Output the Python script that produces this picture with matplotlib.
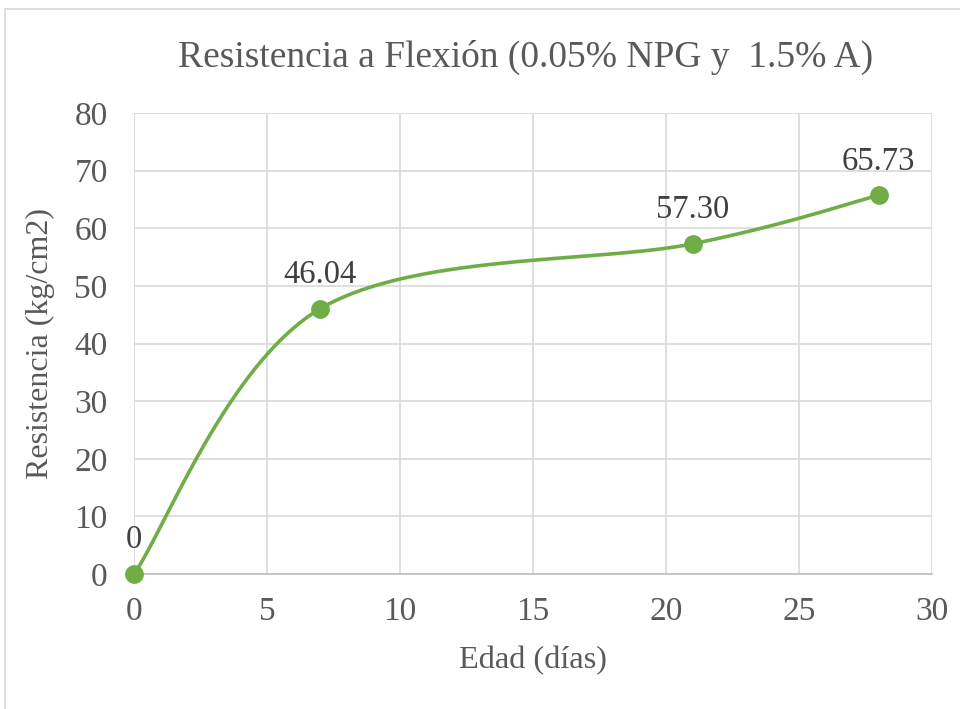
import numpy as np
import matplotlib.pyplot as plt
from matplotlib.patches import Rectangle

plt.rcParams['font.family'] = ['Liberation Serif', 'DejaVu Serif']

# datos
edad = [0, 7, 21, 28]
resistencia = [0, 46.04, 57.30, 65.73]
etiquetas = ['0', '46.04', '57.30', '65.73']
xticks = [0, 5, 10, 15, 20, 25, 30]
yticks = [0, 10, 20, 30, 40, 50, 60, 70, 80]

verde = '#70AD47'
gris = '#595959'


def suavizar(x, y, n=40):
    # curva suavizada tipo Excel (bezier con puntos de control catmull-rom)
    p = np.column_stack([x, y]).astype(float)
    pts = []
    for i in range(len(p) - 1):
        p0 = p[i - 1] if i > 0 else p[i]
        p1, p2 = p[i], p[i + 1]
        p3 = p[i + 2] if i + 2 < len(p) else p[i + 1]
        c1 = p1 + (p2 - p0) / 6
        c2 = p2 - (p3 - p1) / 6
        t = np.linspace(0, 1, n)[:, None]
        b = (1 - t) ** 3 * p1 + 3 * (1 - t) ** 2 * t * c1 + 3 * (1 - t) * t ** 2 * c2 + t ** 3 * p2
        pts.append(b)
    pts = np.vstack(pts)
    return pts[:, 0], pts[:, 1]


fig = plt.figure(figsize=(9.6, 7.09), dpi=100)
ax = fig.add_axes([0.1396, 0.1904, 0.8312, 0.6502])

# borde del grafico
fig.patches.append(Rectangle((5 / 960, -0.1), 1.2, 1 - 9 / 709 + 0.1, transform=fig.transFigure,
                             fill=False, edgecolor='#d9d9d9', lw=1.2))

xs, ys = suavizar(edad, resistencia)
ax.plot(xs, ys, color=verde, lw=2.6, zorder=3, solid_capstyle='round')
ax.plot(edad, resistencia, 'o', color=verde, ms=12.5, zorder=4, clip_on=False)

for x, y, t in zip(edad, resistencia, etiquetas):
    ax.annotate(t, (x, y), xytext=(0, 18.5), textcoords='offset points', ha='center', va='baseline',
                fontsize=23.5, color='#404040')

ax.set_xlim(0, 30)
ax.set_ylim(0, 80)
ax.set_xticks(xticks)
ax.set_yticks(yticks)
ax.grid(True, color='#d9d9d9', lw=1.2)
ax.set_axisbelow(True)
for s in ['top', 'right', 'left']:
    ax.spines[s].set_visible(False)
ax.spines['bottom'].set_color('#bfbfbf')
ax.spines['bottom'].set_linewidth(1.2)
ax.tick_params(length=0, labelsize=24, labelcolor=gris)
ax.tick_params(axis='y', pad=19)
ax.tick_params(axis='x', pad=16)

ax.set_title('Resistencia a Flexión (0.05% NPG y  1.5% A)', fontsize=27, color=gris, pad=33, x=0.491)
ax.set_xlabel('Edad (días)', fontsize=23.3, color=gris, labelpad=14)
ax.set_ylabel('Resistencia (kg/cm2)', fontsize=23, color=gris, labelpad=14)

fig.savefig('out.png', dpi=100)
